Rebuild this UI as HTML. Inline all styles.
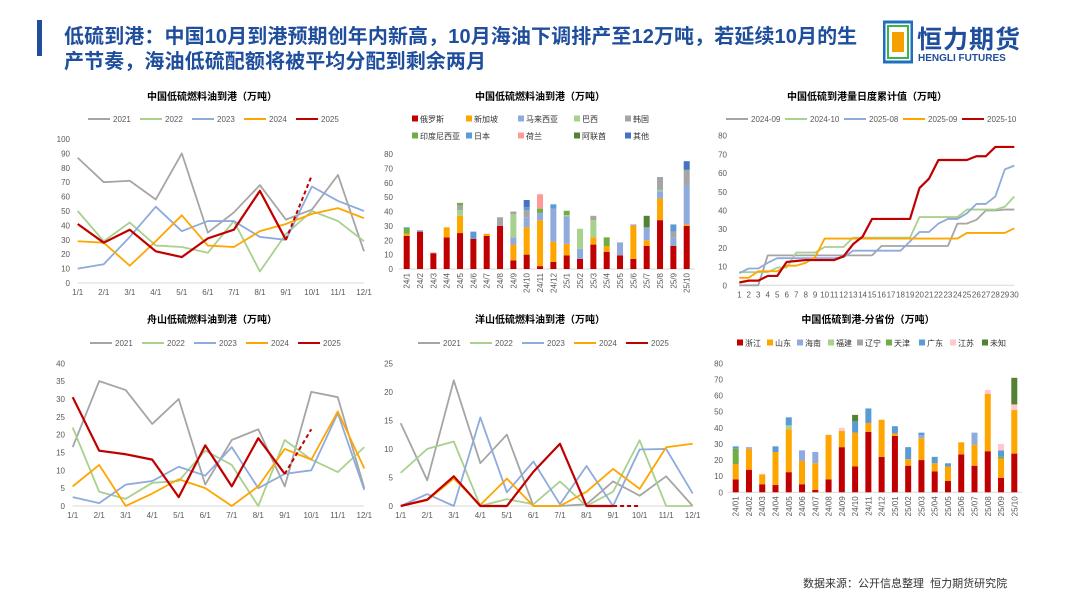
<!DOCTYPE html>
<html><head><meta charset="utf-8">
<style>
body{margin:0;width:1080px;height:608px;background:#fff;overflow:hidden;font-family:"Liberation Sans","Noto Sans CJK SC",sans-serif;position:relative}
.hdr{position:absolute;left:64px;top:25px;font-size:20px;line-height:25px;color:#1f4e9c;font-weight:bold;width:900px;white-space:nowrap;letter-spacing:0.1px}
.bar{position:absolute;left:37px;top:20px;width:5px;height:36px;background:#1f4e9c}
svg text{font-family:"Liberation Sans","Noto Sans CJK SC",sans-serif}
</style></head><body>
<div class="bar"></div>
<div class="hdr">低硫到港：中国10月到港预期创年内新高，10月海油下调排产至12万吨，若延续10月的生<br>产节奏，海油低硫配额将被平均分配到剩余两月</div>
<div style="position:absolute;left:883px;top:20px;width:170px;height:46px">
 <svg width="30" height="44"><rect x="1" y="2" width="28" height="40" fill="none" stroke="#1f6fc0" stroke-width="3"/><rect x="5" y="6" width="20" height="32" fill="#fff" stroke="#3cb44b" stroke-width="2"/><rect x="9" y="12" width="12" height="20" fill="#f5a000"/></svg>
 <div style="position:absolute;left:34px;top:0;font-size:25px;font-weight:bold;color:#1f4e9c;letter-spacing:1px">恒力期货</div>
 <div style="position:absolute;left:35px;top:33px;font-size:10px;font-weight:bold;color:#1f4e9c">HENGLI FUTURES</div>
</div>
<div style="position:absolute;left:803px;top:575px;font-size:11px;color:#333">数据来源：公开信息整理&nbsp;&nbsp;恒力期货研究院</div>
<svg id="s" width="1080" height="608" style="position:absolute;left:0;top:0"></svg>
<script>
// ---- data ----
const months=["1/1","2/1","3/1","4/1","5/1","6/1","7/1","8/1","9/1","10/1","11/1","12/1"];
const years=["2021","2022","2023","2024","2025"];
const yearColors=["#a5a5a5","#a9d18e","#8faadc","#ffa500","#c00000"];
const c1_2021=[87,70,71,58,90,35,49,68,44,51,75,22];
const c1_2022=[50,29,42,26,25,21,43,8,34,50,43,29];
const c1_2023=[10,13,32,53,36,43,43,32,30,67,57,50];
const c1_2024=[29,28,12,29,47,26,25,36,41,48,52,45];
const c1_2025=[41,28,37,22,18,31,37,64,30];
const c1_forecast=[30,75];
const c5_2021=[16.5,35,32.5,23,30,6,18.5,21.5,5.5,32,30.5,5];
const c5_2022=[22,4,2,6.5,7,15.5,11.5,0,18.5,13,9.5,16.5];
const c5_2023=[2.5,0.8,6,7,11,8.5,16.5,5,9,10,26,4.5];
const c5_2024=[5.5,11.5,0,3.5,7.5,5,0,5.5,16,13,26.5,10.5];
const c5_2025=[30.5,15.5,14.5,13,2.5,17,5.5,19,9];
const c5_forecast=[9,21.5];
const c6_2021=[14.5,4.5,22,7.5,12.5,0,0,0.3,4.3,1.8,5.2,0];
const c6_2022=[5.8,10,11.3,0,1.2,0.3,4.3,0,2.5,11.5,0,0];
const c6_2023=[0,2.1,0,15.5,2.4,7.8,0.3,7,0,9.9,10,2.2];
const c6_2024=[0,1,4.8,0.2,4.8,0,0,2.5,6.5,3,10.3,10.9];
const c6_2025=[0,1.1,5.2,0,0,6,10.9,0,0];
const c6_forecast=[0,0];
const barMonths=["24/1","24/2","24/3","24/4","24/5","24/6","24/7","24/8","24/9","24/10","24/11","24/12","25/1","25/2","25/3","25/4","25/5","25/6","25/7","25/8","25/9","25/10"];
const origins=["俄罗斯","新加坡","马来西亚","巴西","韩国","印度尼西亚","日本","荷兰","阿联酋","其他"];
const originColors=["#c00000","#ffa500","#8faadc","#a9d18e","#a5a5a5","#70ad47","#5b9bd5","#ff9999","#548235","#4472c4"];
const o_russia=[23,26,11,22,25,21,23,30,6,10,2,5,9.5,7,17,12,9.5,7,16,34,16,30];
const o_singapore=[1.5,0,0,7,12,0,1.5,0,11,19,32,14,8,0,5,4,0,23,4,15,0,1];
const o_malaysia=[0,1,0,0,0,0,0,0,5,7,5,23,19,7,0,0,9,0,9,5,6,27];
const o_brazil=[0,0,0,0,4,0,0,0,16,0,0,0,1,14,12,0,0,0,0,1,0,0];
const o_korea=[0,0,0,0,3,0,0,6,2,5,0,0,0,0,3,0,0,1,0,9,4,11];
const o_indonesia=[4,0,0,0,2,0,0,0,0,0,3,0,3,0,0,6,0,0,0,0,0,0];
const o_japan=[0.5,0,0,0,0,5,0,0,0,2,0,3,0,0,0,0,0,0,0,0,5,0];
const o_netherlands=[0,0,0.5,0,0,0,0,0,0,0,10,0,0,0,0,0,0,0,0,0,0,0];
const o_uae=[0,0,0,0,0,0,0,0,0,0,0,0,0,0,0,0,0,0,8,0,0,0];
const o_other=[0,0,0,0,0,0,0,0,0,5,0,0,0,0,0,0,0,0,0,0,0,6];
const days=["1","2","3","4","5","6","7","8","9","10","11","12","13","14","15","16","17","18","19","20","21","22","23","24","25","26","27","28","29","30"];
const cumNames=["2024-09","2024-10","2025-08","2025-09","2025-10"];
const d_2409=[0,0,0,16,16,16,16,16,16,16,16,16,16,16,16,21,21,21,21,21,21,21,21,33,33,35,40,40,40.5,40.5];
const d_2410=[7,7,7,7,9.5,9.5,17.5,17.5,17.5,20.5,20.5,20.5,25.5,25.5,25.5,25.5,25.5,25.5,25.5,36.5,36.5,36.5,36.5,36.5,40.5,40.5,40.5,40.5,42,47.5];
const d_2508=[6.5,9,9,12,14.5,14.5,14.5,14.5,14.5,14.5,14.5,15,18.5,18.5,18.5,18.5,18.5,18.5,23.5,28.5,28.5,33,35.5,35.5,38.5,43.5,43.5,47.5,62,64];
const d_2509=[4,4,7.5,7.5,7.5,10.5,10.5,12,15,25,25,25,25,25,25,25,25,25,25,25,25,25,25,25,28,28,28,28,28,30.5];
const d_2510=[1.5,2.5,2.5,5,5,12.5,13,13.5,13.5,13.5,13.5,15.5,22,26,35.5,35.5,35.5,35.5,35.5,52,57,67,67,67,67,69,69,74,74,74];
const provMonths=["24/01","24/02","24/03","24/04","24/05","24/06","24/07","24/08","24/09","24/10","24/11","24/12","25/01","25/02","25/03","25/04","25/05","25/06","25/07","25/08","25/09","25/10"];
const provinces=["浙江","山东","海南","福建","辽宁","天津","广东","江苏","未知"];
const provColors=["#c00000","#ffa500","#8faadc","#a9d18e","#a5a5a5","#70ad47","#5b9bd5","#ffc7ce","#548235"];
const p_zj=[8,14,5,4.5,12.5,5,1.5,8,28,16,37.5,22,35,16.5,20,13,7,23.5,16.5,25.5,9,24];
const p_sd=[9.5,13,6,20.5,26.5,14.5,16.5,27.5,10,21,5.5,23,1.5,4,13.5,5,9,7.5,13,35.5,12,27];
const p_hn=[0,1,0,0,0,6.5,7,0,0,0,0,0,0,0,2,0,0,0,7.5,0,0,0];
const p_fj=[0,0,0,0,2.5,0,0,0,0,0,0,0,0,0,0,0,0,0,0,0,0,0];
const p_ln=[0,0,0,0,0,0,0,0,0,0,0,0,0,0,0,0,0,0,0,0,0,0];
const p_tj=[9.5,0,0,0,0,0,0,0,0,0,0,0,0,0,0,0,0,0,0,0,1,0];
const p_gd=[1.5,0,0,3.5,5,0,0,0,0,7,9,0,4.5,7.5,1.5,4,2,0,0,0,4,0];
const p_js=[0,0,0.5,0,0,0,0,0.3,2,0,0,0,0,0,0,0,0,0,0,2.5,4,3.5];
const p_uk=[0,0,0,0,0,0,0,0,0,4,0,0,0,0,0,0,0,0,0,0,0,16.5];

// ---- helpers ----
const S=document.getElementById('s');const NS="http://www.w3.org/2000/svg";
function mk(t,a,txt){const e=document.createElementNS(NS,t);for(const k in a)e.setAttribute(k,a[k]);if(txt!==undefined)e.textContent=txt;S.appendChild(e);return e;}
function title(x,y,t){const e=mk('text',{x:x,y:y,'text-anchor':'middle','font-size':10,'font-weight':'bold',fill:'#000'},t);

}
function yAxis(x,y0,y1,max,step,labX){for(let v=0;v<=max;v+=step){const y=y0-(v/max)*(y0-y1);const e=mk('text',{x:labX,y:y+3,'text-anchor':'end','font-size':8,fill:'#595959'},v);

}}
function lineLegend(x0,y,dx,names,cols){names.forEach((n,i)=>{const x=x0+i*dx;const l=mk('line',{x1:x,x2:x+22,y1:y,y2:y,stroke:cols[i],'stroke-width':2});


const t=mk('text',{x:x+25,y:y+3,'font-size':8,fill:'#595959'},n);

});}
function boxLegend(items,cols,pos){items.forEach((n,i)=>{const p=pos[i];const r=mk('rect',{x:p[0],y:p[1]-3.5,width:6,height:6,fill:cols[i]});


const t=mk('text',{x:p[0]+8,y:p[1]+3,'font-size':8,fill:'#333'},n);

});}
function lineChart(cfg){const {x0,x1,y0,y1,max,cats,series,cols,fc}=cfg;
 const sx=i=>x0+i*(x1-x0)/(cats.length-1),sy=v=>y0-(v/max)*(y0-y1);
 const ax=mk('line',{x1:x0,x2:x1,y1:y0,y2:y0,stroke:'#d9d9d9','stroke-width':1});
 
 
 cats.forEach((c,i)=>{const t=mk('text',{x:sx(i),y:y0+12,'text-anchor':'middle','font-size':8,fill:'#595959'},c);
 
 });
 series.forEach((s,k)=>{const p=mk('polyline',{points:s.map((v,i)=>sx(i)+','+sy(v)).join(' '),fill:'none',stroke:cols[k],'stroke-width':k==4?2.2:1.8,'stroke-linejoin':'round'});
 
 });
 if(fc){const n=series[4].length-1;const d=mk('line',{x1:sx(n),y1:sy(fc[0]),x2:sx(n+1),y2:sy(fc[1]),stroke:cols[4],'stroke-width':2,'stroke-dasharray':'4,3'});
 
 }}
function barChart(cfg){const {x0,x1,y0,y1,max,cats,stacks,cols,w}=cfg;
 const sx=i=>x0+i*(x1-x0)/(cats.length-1),sh=v=>(v/max)*(y0-y1);
 const ax=mk('line',{x1:x0-8,x2:x1+8,y1:y0,y2:y0,stroke:'#d9d9d9','stroke-width':1});
 
 
 cats.forEach((c,i)=>{let base=y0;stacks.forEach((s,k)=>{if(s[i]>0){const h=sh(s[i]);const r=mk('rect',{x:sx(i)-w/2,y:base-h,width:w,height:h,fill:cols[k]});
 
 base-=h;}});
 const t=mk('text',{x:0,y:0,'text-anchor':'end','font-size':8,fill:'#595959',transform:`translate(${sx(i)+3},${y0+4}) rotate(-90)`},c);
 
 });}

title(212,100,"中国低硫燃料油到港（万吨）");
lineLegend(88,119,52,years,yearColors);
yAxis(0,283,139,100,10,70);
lineChart({x0:77.7,x1:364,y0:283,y1:139,max:100,cats:months,series:[c1_2021,c1_2022,c1_2023,c1_2024,c1_2025],cols:yearColors,fc:c1_forecast});
title(540,100,"中国低硫燃料油到港（万吨）");
boxLegend(origins,originColors,[[412,119],[466,119],[518,119],[574,119],[625,119],[412,136],[466,136],[518,136],[574,136],[625,136]]);
yAxis(0,269,154,80,10,393);
barChart({x0:406.7,x1:686.7,y0:269,y1:154,max:80,cats:barMonths,stacks:[o_russia,o_singapore,o_malaysia,o_brazil,o_korea,o_indonesia,o_japan,o_netherlands,o_uae,o_other],cols:originColors,w:6});
title(867,100,"中国低硫到港量日度累计值（万吨）");
lineLegend(726,119,59,cumNames,yearColors);
yAxis(0,285.3,135.7,80,10,727);
lineChart({x0:739.3,x1:1014.3,y0:285.3,y1:135.7,max:80,cats:days,series:[d_2409,d_2410,d_2508,d_2509,d_2510],cols:yearColors});
title(868,323,"中国低硫到港-分省份（万吨）");
boxLegend(provinces,provColors,[[737,343],[767,343],[797,343],[828,343],[857,343],[886,343],[919,343],[950,343],[982,343]]);
yAxis(0,492.3,363.3,80,10,723);
barChart({x0:735.7,x1:1014.3,y0:492.3,y1:363.3,max:80,cats:provMonths,stacks:[p_zj,p_sd,p_hn,p_fj,p_ln,p_tj,p_gd,p_js,p_uk],cols:provColors,w:6});
title(212,323,"舟山低硫燃料油到港（万吨）");
lineLegend(90,343,52,years,yearColors);
yAxis(0,506,363.3,40,5,65);
lineChart({x0:72.7,x1:364.3,y0:506,y1:363.3,max:40,cats:months,series:[c5_2021,c5_2022,c5_2023,c5_2024,c5_2025],cols:yearColors,fc:c5_forecast});
title(540,323,"洋山低硫燃料油到港（万吨）");
lineLegend(418,343,52,years,yearColors);
yAxis(0,506,363.3,25,5,393);
lineChart({x0:400.7,x1:692.7,y0:506,y1:363.3,max:25,cats:months,series:[c6_2021,c6_2022,c6_2023,c6_2024,c6_2025],cols:yearColors,fc:c6_forecast});
</script>
</body></html>
